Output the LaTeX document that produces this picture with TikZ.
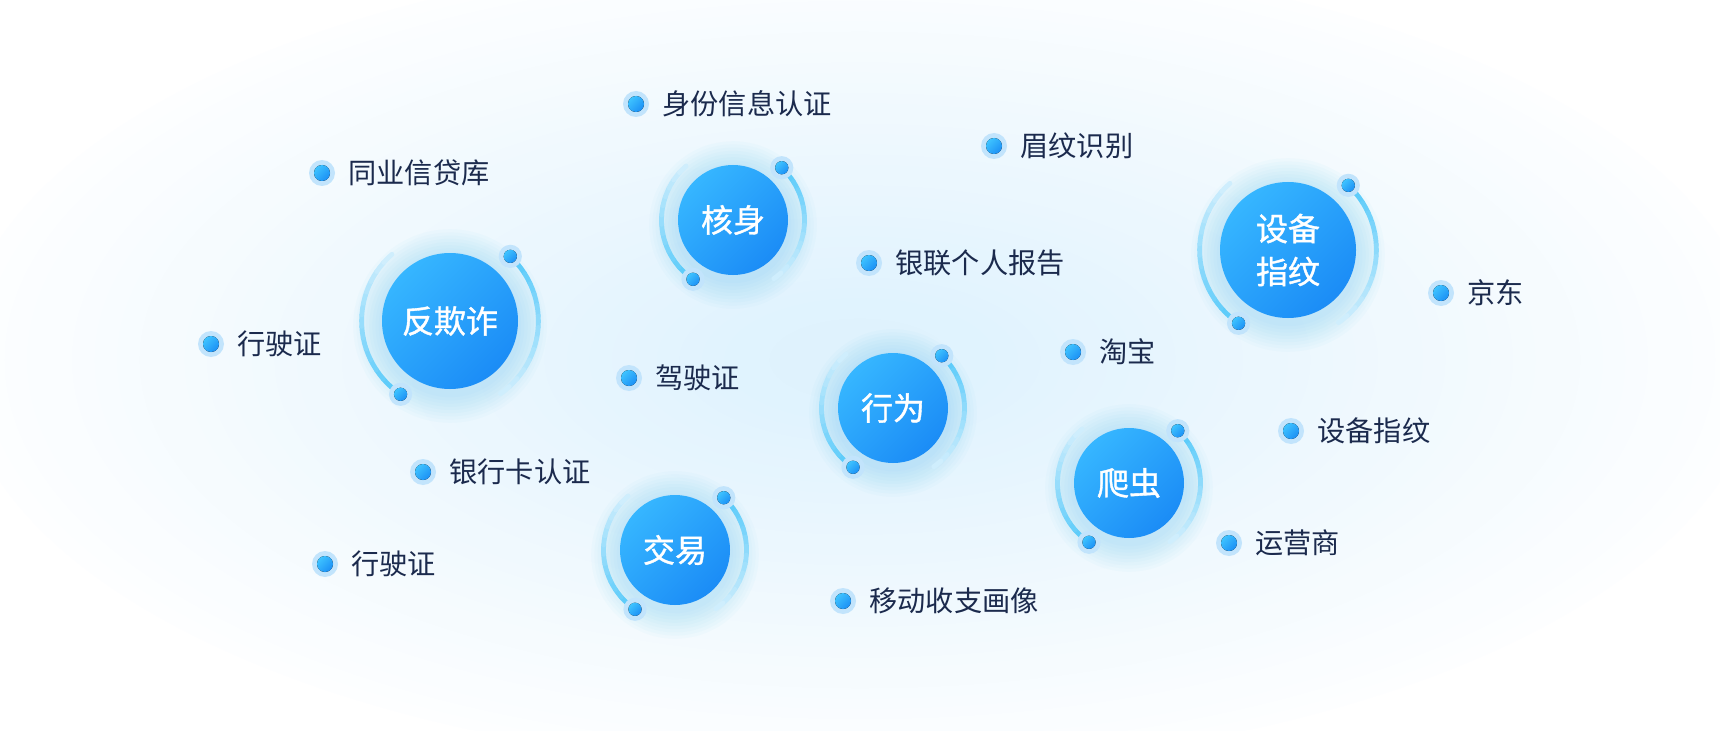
\documentclass[tikz,border=0pt]{standalone}
\usepackage{fontspec}
\newfontfamily\cjk{Noto Sans CJK SC}
\newfontfamily\cjkhub{Noto Sans CJK SC}[FakeBold=1.2]
\usepackage{tikz}
\usetikzlibrary{calc}
\usepackage{xcolor}
\definecolor{bgglow}{HTML}{BCE4FC}
\definecolor{hubtop}{HTML}{36B6FF}
\definecolor{hubbot}{HTML}{1B8CF6}
\definecolor{glowblue}{HTML}{5EC2F8}
\definecolor{arcdeep}{HTML}{55C9FA}
\definecolor{arcpale}{HTML}{D2EFFD}
\definecolor{dotblue}{HTML}{1C90F5}
\definecolor{dotlight}{HTML}{3EC3FF}
\definecolor{dothalo}{HTML}{C2E4FC}
\definecolor{tagtext}{HTML}{1B2A4D}
\tikzset{
  hub/.style={circle,inner sep=0pt,text=white,align=center,
    font=\cjkhub\fontsize{16}{21.5}\selectfont,
    top color=hubtop,bottom color=hubbot,shading angle=45},
  tag/.style={inner sep=0pt,anchor=west,text=tagtext,
    font=\cjk\fontsize{14.1}{17}\selectfont},
  arcpiece/.style={line width=2.4pt,line cap=round}
}
% small dot with halo
\newcommand{\ringdot}[2]{%
  \fill[dothalo] #1 circle ({#2+2.5pt});
  \fill[top color=dotlight,bottom color=dotblue,shading angle=45] #1 circle (#2);}
% hub: name, x, y, radius (px), text
\newcommand{\hubnode}[5]{%
  \foreach \g in {1,...,9}
    \fill[glowblue,opacity=0.035] (#2,#3-5) circle ({(#4+3.2*\g)*0.5pt});
  \node[hub,minimum size={#4*1pt}] (#1) at (#2,#3) {#5};
  \foreach \k in {0,...,13}{
    \pgfmathsetmacro\mix{100-\k*7.5}
    \draw[arcpiece,arcdeep!\mix!arcpale]
      ($(#1.center)+(47-\k*7.3:{#4*0.65pt})$)
      arc[start angle={47-\k*7.3},end angle={47-(\k+1)*7.3},radius={#4*0.65pt}];
    \draw[arcpiece,arcdeep!\mix!arcpale]
      ($(#1.center)+(236-\k*7.5:{#4*0.65pt})$)
      arc[start angle={236-\k*7.5},end angle={236-(\k+1)*7.5},radius={#4*0.65pt}];
  }
  \ringdot{($(#1.center)+(47:{#4*0.65pt})$)}{3.3pt}
  \ringdot{($(#1.center)+(236:{#4*0.65pt})$)}{3.3pt}
}
% label: name, x, y, text
\newcommand{\tagnode}[4]{%
  \ringdot{(#2,#3)}{4pt}
  \node[tag] (#1) at (#2+26,#3) {#4};
}

\begin{document}
\begin{tikzpicture}[x=0.5pt,y=0.5pt]
\useasboundingbox (0,0) rectangle (1720,730);
\fill[white] (0,0) rectangle (1720,730);
% soft glow in the middle
\begin{scope}
  \clip (0,0) rectangle (1720,730);
  \foreach \s in {1.00,0.975,...,0.08}{
    \pgfmathsetmacro\pct{3+50*(1-\s)}
    \fill[bgglow!\pct!white] (860,370) ellipse [x radius={450pt*\s},y radius={205pt*\s}];
  }
\end{scope}

% hubs
\hubnode{antifraud}{450}{409}{68}{反欺诈}
\hubnode{verify}{733}{510}{55}{核身}
\hubnode{behavior}{893}{322}{55}{行为}
\hubnode{trade}{675}{180}{55}{交易}
\hubnode{crawler}{1129}{247}{55}{爬虫}
\hubnode{device}{1288}{480}{68}{设备\\指纹}

% labels
\tagnode{idcheck}{636}{626}{身份信息认证}
\tagnode{peerdb}{322}{557}{同业信贷库}
\tagnode{brow}{994}{584}{眉纹识别}
\tagnode{unionpay}{869}{467}{银联个人报告}
\tagnode{jd}{1441}{437}{京东}
\tagnode{licensea}{211}{386}{行驶证}
\tagnode{taobao}{1073}{378}{淘宝}
\tagnode{driver}{629}{352}{驾驶证}
\tagnode{devicetag}{1291}{299}{设备指纹}
\tagnode{bankcard}{423}{258}{银行卡认证}
\tagnode{carrier}{1229}{187}{运营商}
\tagnode{licenseb}{325}{166}{行驶证}
\tagnode{payment}{843}{129}{移动收支画像}
\end{tikzpicture}
\end{document}
